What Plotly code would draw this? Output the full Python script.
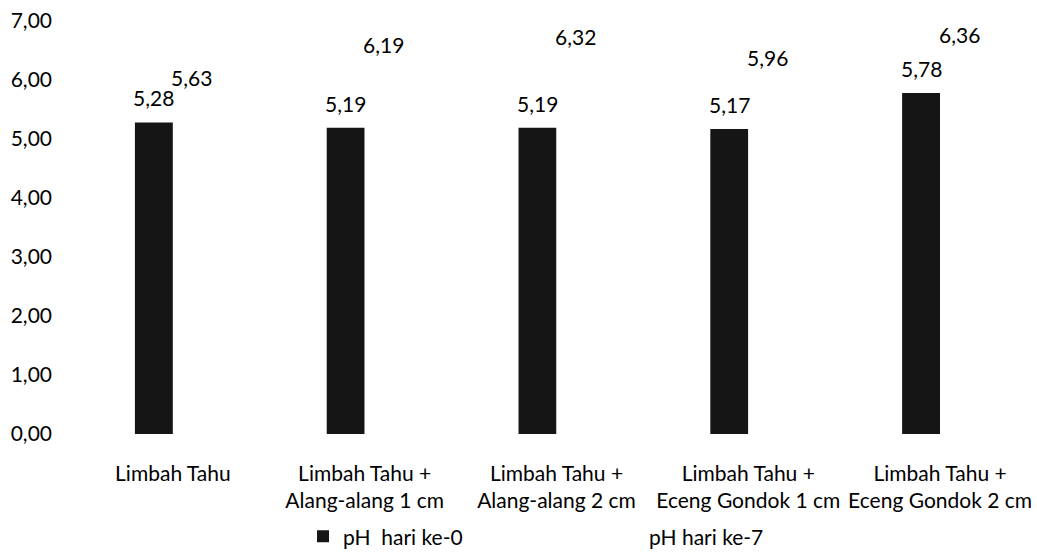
import plotly.graph_objects as go

# Categories and pH readings
categories = [
    "Limbah Tahu",
    "Limbah Tahu +<br>Alang-alang 1 cm",
    "Limbah Tahu +<br>Alang-alang 2 cm",
    "Limbah Tahu +<br>Eceng Gondok 1 cm",
    "Limbah Tahu +<br>Eceng Gondok 2 cm",
]
ph_day0 = [5.28, 5.19, 5.19, 5.17, 5.78]
ph_day7 = [5.63, 6.19, 6.32, 5.96, 6.36]
y_ticks = [0, 1, 2, 3, 4, 5, 6, 7]

FONT = "Lato"
TXT = 21


def fmt(v):
    return f"{v:.2f}".replace(".", ",")


fig = go.Figure()
fig.add_trace(go.Bar(
    x=categories, y=ph_day0, name="pH  hari ke-0",
    marker=dict(color="#151515", line=dict(width=0)),
))
fig.add_trace(go.Bar(
    x=categories, y=ph_day7, name="pH hari ke-7",
    marker=dict(color="#ffffff", line=dict(width=0)),
))

# value labels above each bar (day-0 bar left, day-7 bar right of the category centre)
annotations = []
for series, shift in ((ph_day0, -19), (ph_day7, 19)):
    for cat, v in zip(categories, series):
        annotations.append(dict(x=cat, y=v, text=fmt(v), xshift=shift, yshift=10,
                                yanchor="bottom", showarrow=False,
                                font=dict(family=FONT, size=TXT, color="#000")))

fig.update_layout(
    width=1037, height=553,
    margin=dict(l=77, r=1, t=21, b=119, autoexpand=False),
    paper_bgcolor="white", plot_bgcolor="white",
    barmode="group", bargap=0.604, bargroupgap=0,
    separators=",.",
    font=dict(family=FONT, size=TXT, color="#000"),
    annotations=annotations,
    showlegend=True,
    legend=dict(
        orientation="h", x=0.2357, xanchor="left", y=-0.199, yanchor="top",
        entrywidth=261, entrywidthmode="pixels",
        font=dict(family=FONT, size=TXT, color="#000"),
        itemwidth=30, traceorder="normal",
    ),
    xaxis=dict(
        showgrid=False, showline=False, zeroline=False,
        ticks="", ticklabelstandoff=25,
        tickfont=dict(family=FONT, size=TXT, color="#000"),
    ),
    yaxis=dict(
        range=[0, 7], tickvals=y_ticks, tickformat=".2f",
        showgrid=False, showline=False, zeroline=False,
        ticks="", ticklabelstandoff=24,
        tickfont=dict(family=FONT, size=TXT, color="#000"),
    ),
)

fig.write_html("out.html")
